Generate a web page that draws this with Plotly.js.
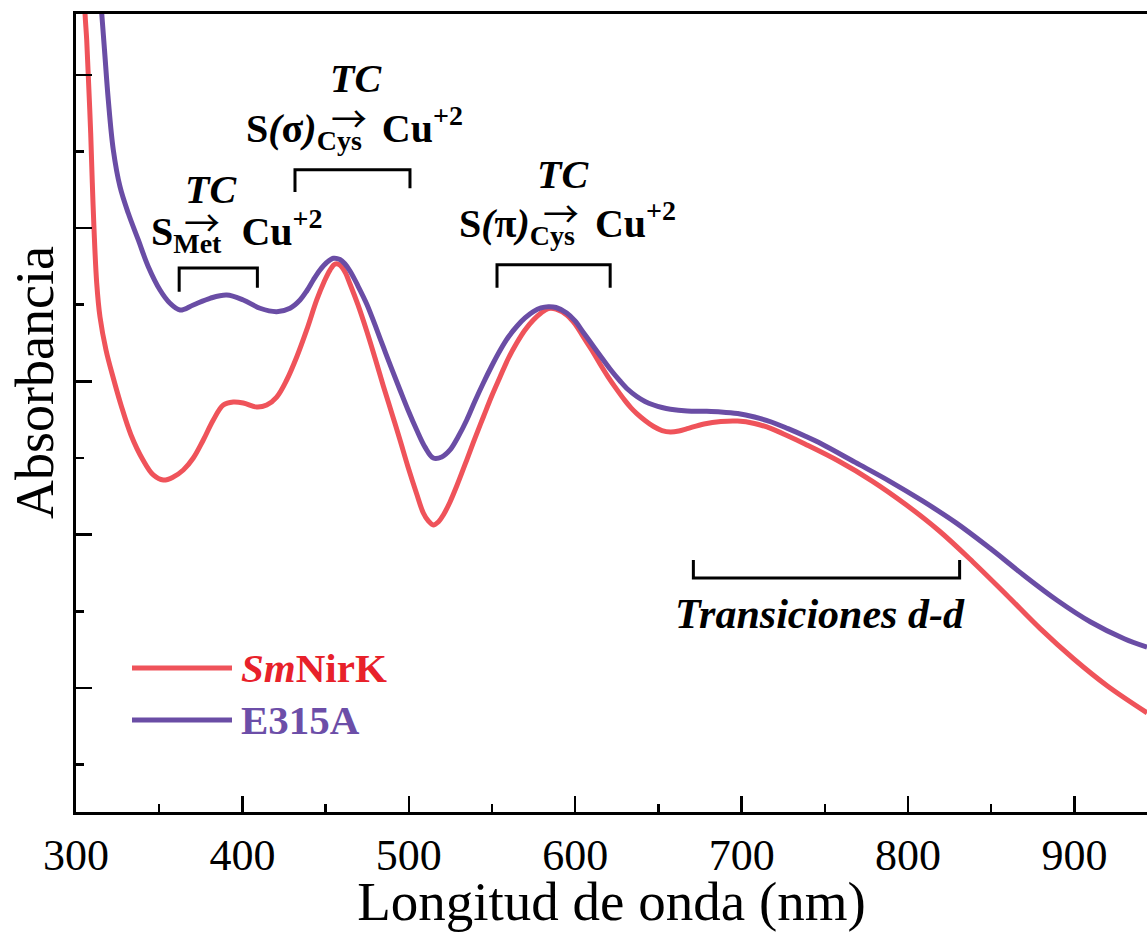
<!DOCTYPE html>
<html>
<head>
<meta charset="utf-8">
<script src="https://cdn.plot.ly/plotly-3.0.1.min.js"></script>
<style>
  html, body { margin: 0; padding: 0; background: #ffffff; overflow: hidden; }
  #chart { width: 1147px; height: 932px; }
</style>
</head>
<body>
<div id="chart"></div>
<script>
// ---------------- data ----------------
const wavelengthSmNirK = [304.51, 305.41, 306.43, 307.39, 308.83, 309.80, 310.82, 312.44, 314.42, 318.03, 322.24, 327.04, 333.05, 340.26, 346.45, 352.46, 358.47, 364.48, 370.49, 376.50, 382.51, 388.52, 394.53, 400.54, 408.60, 414.60, 420.61, 426.62, 432.63, 438.64, 444.65, 449.04, 452.64, 455.65, 458.65, 461.66, 464.66, 469.47, 474.70, 479.69, 484.68, 489.72, 494.71, 499.52, 504.75, 508.72, 511.72, 514.73, 517.73, 520.74, 524.76, 528.79, 534.80, 539.78, 544.78, 549.82, 554.81, 559.62, 564.84, 569.83, 574.82, 579.45, 583.84, 588.46, 594.90, 599.89, 604.87, 609.92, 614.91, 619.72, 624.94, 629.93, 633.54, 637.01, 641.94, 647.11, 652.16, 657.21, 662.26, 667.30, 677.40, 687.50, 697.60, 707.75, 717.85, 727.88, 738.04, 758.23, 778.42, 798.62, 818.81, 839.00, 859.25, 879.45, 899.64, 919.83, 943.63];
const absorbanceSmNirK = [1.1367, 1.0806, 1.0454, 0.9984, 0.9240, 0.8588, 0.7988, 0.7284, 0.6840, 0.6410, 0.6057, 0.5692, 0.5301, 0.4974, 0.4779, 0.4713, 0.4753, 0.4844, 0.5000, 0.5235, 0.5496, 0.5692, 0.5731, 0.5718, 0.5666, 0.5692, 0.5796, 0.6018, 0.6318, 0.6671, 0.7062, 0.7297, 0.7453, 0.7531, 0.7518, 0.7427, 0.7271, 0.6997, 0.6657, 0.6305, 0.5940, 0.5588, 0.5235, 0.4883, 0.4531, 0.4283, 0.4179, 0.4126, 0.4166, 0.4257, 0.4427, 0.4635, 0.4974, 0.5261, 0.5535, 0.5809, 0.6057, 0.6292, 0.6501, 0.6671, 0.6801, 0.6892, 0.6951, 0.6944, 0.6866, 0.6749, 0.6579, 0.6410, 0.6227, 0.6060, 0.5896, 0.5749, 0.5655, 0.5580, 0.5490, 0.5411, 0.5359, 0.5340, 0.5353, 0.5383, 0.5444, 0.5477, 0.5483, 0.5451, 0.5383, 0.5287, 0.5183, 0.4961, 0.4700, 0.4394, 0.4048, 0.3644, 0.3213, 0.2774, 0.2378, 0.2026, 0.1676];

const wavelengthE315A = [313.64, 315.45, 317.13, 319.41, 322.42, 326.44, 331.43, 337.44, 343.45, 350.48, 356.49, 362.50, 370.49, 380.53, 390.56, 400.54, 410.58, 420.61, 428.61, 434.62, 438.64, 442.61, 446.63, 450.66, 454.63, 458.66, 461.66, 464.66, 469.47, 474.70, 479.69, 484.68, 489.72, 494.71, 499.52, 504.75, 509.74, 514.73, 519.78, 524.76, 529.57, 534.80, 539.78, 544.78, 549.82, 554.81, 559.62, 564.84, 569.83, 574.82, 579.45, 583.84, 588.46, 594.90, 599.89, 604.87, 609.92, 614.91, 620.92, 626.93, 631.73, 637.01, 641.94, 647.11, 652.16, 657.21, 667.30, 677.40, 687.50, 697.60, 707.75, 717.85, 727.88, 738.04, 748.13, 768.33, 788.52, 808.71, 828.90, 849.10, 869.35, 889.54, 909.74, 929.93, 943.63];
const absorbanceE315A = [1.1302, 1.0802, 1.0323, 0.9671, 0.9019, 0.8540, 0.8193, 0.7845, 0.7496, 0.7192, 0.7019, 0.6931, 0.6997, 0.7084, 0.7127, 0.7062, 0.6954, 0.6909, 0.6954, 0.7062, 0.7179, 0.7323, 0.7453, 0.7551, 0.7606, 0.7590, 0.7531, 0.7440, 0.7244, 0.7010, 0.6736, 0.6449, 0.6162, 0.5888, 0.5627, 0.5366, 0.5143, 0.5001, 0.5014, 0.5105, 0.5274, 0.5496, 0.5744, 0.5979, 0.6201, 0.6403, 0.6573, 0.6716, 0.6827, 0.6909, 0.6958, 0.6974, 0.6964, 0.6892, 0.6788, 0.6638, 0.6488, 0.6338, 0.6162, 0.6005, 0.5894, 0.5803, 0.5738, 0.5692, 0.5659, 0.5637, 0.5615, 0.5610, 0.5601, 0.5580, 0.5535, 0.5470, 0.5383, 0.5287, 0.5183, 0.4943, 0.4703, 0.4440, 0.4154, 0.3825, 0.3474, 0.3145, 0.2861, 0.2642, 0.2532];

const seriesNames = ['SmNirK', 'E315A'];
const xTickValues = [300, 400, 500, 600, 700, 800, 900];
const xTickLabels = ['300', '400', '500', '600', '700', '800', '900'];

// ---------------- styling / layout ----------------
const RED = 'rgb(239,83,90)';
const PURPLE = 'rgb(106,77,165)';
const FONT = 'Liberation Serif, Times New Roman, serif';

const W = 1147, H = 932;
const PL = 76, PT = 14, PB = 812;          // plot area edges in px
const px = v => (v - PL) / (W - PL);        // px -> paper x
const py = v => (PB - v) / (PB - PT);       // px -> paper y

const traces = [
  { x: wavelengthSmNirK, y: absorbanceSmNirK, name: seriesNames[0], mode: 'lines',
    line: { color: RED, width: 5, shape: 'spline', smoothing: 1 }, showlegend: false },
  { x: wavelengthE315A, y: absorbanceE315A, name: seriesNames[1], mode: 'lines',
    line: { color: PURPLE, width: 5, shape: 'spline', smoothing: 1 }, showlegend: false }
];

function bracketDown(x0, x1, yTop, yLeg0, yLeg1) {
  return { type: 'path', xref: 'x', yref: 'y',
    path: `M${x0},${yLeg0} L${x0},${yTop} L${x1},${yTop} L${x1},${yLeg1}`,
    line: { color: 'black', width: 3 } };
}
function bracketUp(x0, x1, yBot, yLeg) {
  return { type: 'path', xref: 'x', yref: 'y',
    path: `M${x0},${yLeg} L${x0},${yBot} L${x1},${yBot} L${x1},${yLeg}`,
    line: { color: 'black', width: 3 } };
}

const shapes = [
  bracketDown(362, 409, 0.748, 0.717, 0.722),
  bracketDown(431.6, 500.7, 0.876, 0.847, 0.852),
  bracketDown(553, 621, 0.752, 0.722, 0.722),
  bracketUp(671, 831, 0.3435, 0.367),
  // legend samples
  { type: 'line', xref: 'paper', yref: 'paper', x0: px(132), x1: px(232), y0: py(668), y1: py(668),
    line: { color: RED, width: 5 } },
  { type: 'line', xref: 'paper', yref: 'paper', x0: px(132), x1: px(232), y0: py(720), y1: py(720),
    line: { color: PURPLE, width: 5 } }
];

function note(text, xp, yp, size, opts) {
  return Object.assign({ text: text, xref: 'paper', yref: 'paper', x: px(xp), y: py(yp),
    showarrow: false, xanchor: 'center', yanchor: 'middle',
    font: { family: FONT, size: size, color: 'black' } }, opts || {});
}
const ARROW_FONT = { family: 'Noto Sans CJK JP', size: 36, color: 'black' };

const annotations = [
  // group 1 : S(Met) -> Cu
  note('<b><i>TC</i></b>', 211, 189, 40),
  note('<b>S<sub>Met</sub>  Cu<sup>+2</sup></b>', 149, 231, 40, { xanchor: 'left' }),
  note('→', 202, 221, 36, { font: ARROW_FONT }),
  // group 2 : S(sigma)Cys -> Cu
  note('<b><i>TC</i></b>', 356, 78, 40),
  note('<b>S<i>(</i>σ<i>)</i><sub>Cys</sub>  Cu<sup>+2</sup></b>', 244, 128, 40, { xanchor: 'left' }),
  note('→', 349, 117, 36, { font: ARROW_FONT }),
  // group 3 : S(pi)Cys -> Cu
  note('<b><i>TC</i></b>', 563, 175, 40),
  note('<b>S<i>(</i>π<i>)</i><sub>Cys</sub>  Cu<sup>+2</sup></b>', 457, 223, 40, { xanchor: 'left' }),
  note('→', 561, 212, 36, { font: ARROW_FONT }),
  // d-d
  note('<b><i>Transiciones d-d</i></b>', 820, 614, 42),
  // legend texts
  note('<b><i>Sm</i>NirK</b>', 239, 668, 41, { xanchor: 'left', font: { family: FONT, size: 41, color: 'rgb(232,33,42)' } }),
  note('<b>E315A</b>', 239, 720, 41, { xanchor: 'left', font: { family: FONT, size: 41, color: 'rgb(108,78,168)' } }),
  // y axis title
  note('Absorbancia', 35, 383, 54, { textangle: -90 })
];

const layout = {
  width: W, height: H,
  margin: { l: PL, r: 0, t: PT, b: H - PB, pad: 0 },
  paper_bgcolor: 'white', plot_bgcolor: 'white',
  showlegend: false,
  font: { family: FONT, color: 'black' },
  xaxis: {
    range: [300, 943.6], showgrid: false, zeroline: false,
    showline: true, linecolor: 'black', linewidth: 3, mirror: true,
    ticks: 'inside', ticklen: 16, tickwidth: 2.5, tickcolor: 'black',
    tickmode: 'array', tickvals: xTickValues, ticktext: xTickLabels,
    tickfont: { family: FONT, size: 44, color: 'black' },
    ticklabelstandoff: 2,
    minor: { dtick: 50, tick0: 300, ticks: 'inside', ticklen: 8, tickwidth: 2.5, tickcolor: 'black', showgrid: false },
    title: { text: 'Longitud de onda (nm)', font: { family: FONT, size: 55, color: 'black' }, standoff: 25 }
  },
  yaxis: {
    range: [0.0382, 1.0793], showgrid: false, zeroline: false,
    showline: true, linecolor: 'black', linewidth: 3, mirror: false,
    ticks: 'inside', ticklen: 16, tickwidth: 2.5, tickcolor: 'black',
    dtick: 0.2, tick0: 0, showticklabels: false,
    minor: { dtick: 0.1, tick0: 0, ticks: 'inside', ticklen: 8, tickwidth: 2.5, tickcolor: 'black', showgrid: false }
  },
  shapes: shapes,
  annotations: annotations
};

Plotly.newPlot('chart', traces, layout, { displayModeBar: false, staticPlot: true });
</script>
</body>
</html>
